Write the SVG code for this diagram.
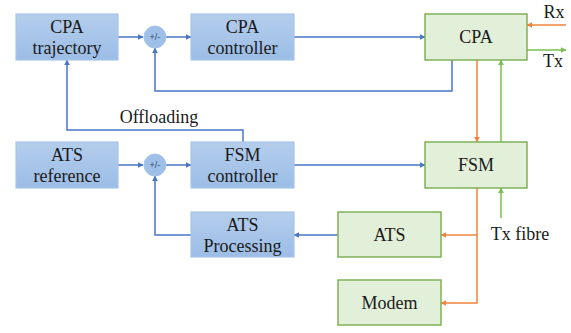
<svg xmlns="http://www.w3.org/2000/svg" width="571" height="333" viewBox="0 0 571 333">
  <style>
    .ctl { fill: url(#blueFill); stroke: #a8c4ea; stroke-width: 1.2; }
    .dev { fill: #e2efd9; stroke: #7fb15a; stroke-width: 1.5; }
    .sum { fill: #9dbfe8; stroke: #a8c4ea; stroke-width: 1; }
    .lbl { font-family: "Liberation Serif", "Times New Roman", serif; font-size: 18px; fill: #1a1a1a; text-anchor: middle; }
    .op { font-family: "Liberation Sans", Arial, sans-serif; font-size: 9px; fill: #3b4a5e; text-anchor: middle; }
    .blue { fill: none; stroke: #4a76c8; stroke-width: 1.5; }
    .orange { fill: none; stroke: #f0843e; stroke-width: 1.5; }
    .green { fill: none; stroke: #7cbf4e; stroke-width: 1.5; }
  </style>
  <defs>
    <linearGradient id="blueFill" x1="0" y1="0" x2="0" y2="1">
      <stop offset="0" stop-color="#b4cdec"/>
      <stop offset="1" stop-color="#9cbde6"/>
    </linearGradient>
    <marker id="aBlue" viewBox="0 0 10 10" refX="9" refY="5" markerWidth="6" markerHeight="6" markerUnits="userSpaceOnUse" orient="auto">
      <path d="M0,0 L10,5 L0,10 z" fill="#4a76c8"/>
    </marker>
    <marker id="aOrange" viewBox="0 0 10 10" refX="9" refY="5" markerWidth="6" markerHeight="6" markerUnits="userSpaceOnUse" orient="auto">
      <path d="M0,0 L10,5 L0,10 z" fill="#f0843e"/>
    </marker>
    <marker id="aGreen" viewBox="0 0 10 10" refX="9" refY="5" markerWidth="6" markerHeight="6" markerUnits="userSpaceOnUse" orient="auto">
      <path d="M0,0 L10,5 L0,10 z" fill="#7cbf4e"/>
    </marker>
  </defs>

  <rect width="571" height="333" fill="#ffffff"/>

  <!-- connectors -->
  <g id="connectors">
    <path class="blue" d="M118,37 H143" marker-end="url(#aBlue)"/>
    <path class="blue" d="M166,37 H191" marker-end="url(#aBlue)"/>
    <path class="blue" d="M294,37 H425" marker-end="url(#aBlue)"/>
    <path class="blue" d="M452,60 V91 H155 V48" marker-end="url(#aBlue)"/>
    <path class="blue" d="M243,142 V130 H67 V60" marker-end="url(#aBlue)"/>
    <path class="blue" d="M118,165 H143" marker-end="url(#aBlue)"/>
    <path class="blue" d="M166,165 H191" marker-end="url(#aBlue)"/>
    <path class="blue" d="M294,165 H425" marker-end="url(#aBlue)"/>
    <path class="blue" d="M191,235 H155 V176" marker-end="url(#aBlue)"/>
    <path class="blue" d="M338,235 H294" marker-end="url(#aBlue)"/>

    <path class="orange" d="M566,25 H527" marker-end="url(#aOrange)"/>
    <path class="orange" d="M477,60 V142" marker-end="url(#aOrange)"/>
    <path class="orange" d="M477,188 V303 H441" marker-end="url(#aOrange)"/>
    <path class="orange" d="M477,235 H441" marker-end="url(#aOrange)"/>

    <path class="green" d="M527,50 H566" marker-end="url(#aGreen)"/>
    <path class="green" d="M501,142 V60" marker-end="url(#aGreen)"/>
    <path class="green" d="M501,218 V188" marker-end="url(#aGreen)"/>

    <text class="lbl" x="159" y="123">Offloading</text>
    <text class="lbl" x="554" y="18">Rx</text>
    <text class="lbl" x="553" y="67">Tx</text>
    <text class="lbl" x="520" y="240">Tx fibre</text>
  </g>

  <!-- control blocks -->
  <g id="cpa-trajectory">
    <rect class="ctl" x="16" y="14" width="102" height="46"/>
    <text class="lbl" x="67" y="33">CPA</text>
    <text class="lbl" x="67" y="54">trajectory</text>
  </g>
  <g id="sum-cpa">
    <circle class="sum" cx="155" cy="37" r="11"/>
    <text class="op" x="155" y="40">+/-</text>
  </g>
  <g id="cpa-controller">
    <rect class="ctl" x="191" y="14" width="103" height="46"/>
    <text class="lbl" x="242.5" y="33">CPA</text>
    <text class="lbl" x="242.5" y="54">controller</text>
  </g>
  <g id="ats-reference">
    <rect class="ctl" x="16" y="142" width="102" height="46"/>
    <text class="lbl" x="67" y="161">ATS</text>
    <text class="lbl" x="67" y="182">reference</text>
  </g>
  <g id="sum-fsm">
    <circle class="sum" cx="155" cy="165" r="11"/>
    <text class="op" x="155" y="168">+/-</text>
  </g>
  <g id="fsm-controller">
    <rect class="ctl" x="191" y="142" width="103" height="46"/>
    <text class="lbl" x="242.5" y="161">FSM</text>
    <text class="lbl" x="242.5" y="182">controller</text>
  </g>
  <g id="ats-processing">
    <rect class="ctl" x="191" y="212" width="103" height="45"/>
    <text class="lbl" x="242.5" y="231">ATS</text>
    <text class="lbl" x="242.5" y="252">Processing</text>
  </g>

  <!-- hardware blocks -->
  <g id="cpa">
    <rect class="dev" x="425" y="14" width="102" height="46"/>
    <text class="lbl" x="476" y="43">CPA</text>
  </g>
  <g id="fsm">
    <rect class="dev" x="425" y="142" width="102" height="46"/>
    <text class="lbl" x="476" y="171">FSM</text>
  </g>
  <g id="ats">
    <rect class="dev" x="338" y="212" width="103" height="45"/>
    <text class="lbl" x="389.5" y="241">ATS</text>
  </g>
  <g id="modem">
    <rect class="dev" x="338" y="280" width="103" height="45"/>
    <text class="lbl" x="389.5" y="309">Modem</text>
  </g>
</svg>
